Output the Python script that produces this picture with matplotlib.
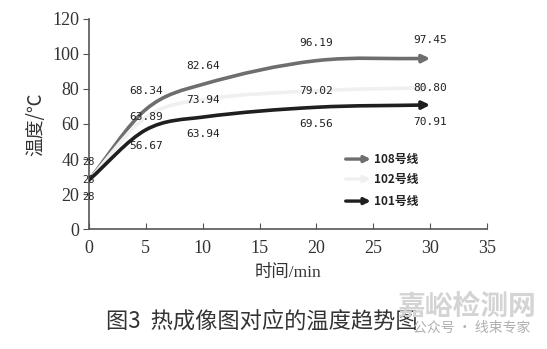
import matplotlib
matplotlib.use('Agg')
import matplotlib.pyplot as plt
from matplotlib.path import Path
from matplotlib.patches import FancyArrowPatch
import numpy as np

# data
times = [0, 5, 10, 20, 30]
line_108 = [28, 68.34, 82.64, 96.19, 97.45]
line_102 = [28, 63.89, 73.94, 79.02, 80.80]
line_101 = [28, 56.67, 63.94, 69.56, 70.91]
series_names = ['108号线', '102号线', '101号线']
x_ticks = [0, 5, 10, 15, 20, 25, 30, 35]
y_ticks = [0, 20, 40, 60, 80, 100, 120]

# styles
COLORS = ['#6e6e6e', '#f0f0f0', '#1f1f1f']
LABEL_DY = [13, 0, -12]   # label offset in points
TEXT = '#222222'
SPINE = '#555555'
CJK = ['Noto Sans CJK SC', 'DejaVu Sans']


def smooth_path(xs, ys):
    # cubic bezier through the data points (Excel-like smoothed line)
    xs = np.asarray(xs, float)
    ys = np.asarray(ys, float)
    n = len(xs)
    dydx = np.zeros(n)
    for i in range(n):
        if i == 0:
            dydx[i] = (ys[1] - ys[0]) / (xs[1] - xs[0])
        elif i == n - 1:
            dydx[i] = (ys[-1] - ys[-2]) / (xs[-1] - xs[-2])
        else:
            dydx[i] = (ys[i + 1] - ys[i - 1]) / (xs[i + 1] - xs[i - 1])
    verts = [(xs[0], ys[0])]
    codes = [Path.MOVETO]
    for i in range(n - 1):
        h = (xs[i + 1] - xs[i]) / 3
        verts += [(xs[i] + h, ys[i] + dydx[i] * h),
                  (xs[i + 1] - h, ys[i + 1] - dydx[i + 1] * h),
                  (xs[i + 1], ys[i + 1])]
        codes += [Path.CURVE4] * 3
    return Path(verts, codes)


fig = plt.figure(figsize=(5.47, 3.49), dpi=100)
fig.patch.set_facecolor('white')
ax = fig.add_axes([0.1627, 0.3438, 0.7276, 0.6018])

all_series = [line_108, line_102, line_101]
for vals, color, dy in zip(all_series, COLORS, LABEL_DY):
    arrow = FancyArrowPatch(path=smooth_path(times, vals), arrowstyle='-|>',
                            mutation_scale=11, color=color, lw=2.6,
                            transform=ax.transData)
    ax.add_patch(arrow)
    for x, v in zip(times, vals):
        txt = f'{v:.2f}' if x > 0 else f'{v:g}'
        ax.annotate(txt, (x, v), xytext=(0, dy),
                    textcoords='offset points', ha='center', va='center',
                    fontsize=8 if x > 0 else 7.5, family='DejaVu Sans Mono',
                    color=TEXT)

ax.set_xlim(0, 35)
ax.set_ylim(0, 120)
ax.set_xticks(x_ticks)
ax.set_yticks(y_ticks)
for lab in ax.get_xticklabels() + ax.get_yticklabels():
    lab.set_family('Liberation Serif')
    lab.set_fontsize(13)
    lab.set_color('#333333')
ax.tick_params(axis='x', direction='in', length=4, color=SPINE, pad=8)
ax.tick_params(axis='y', direction='out', length=4, color=SPINE, pad=3)
for s in ['top', 'right']:
    ax.spines[s].set_visible(False)
for s in ['left', 'bottom']:
    ax.spines[s].set_color(SPINE)
    ax.spines[s].set_linewidth(1.2)

ax.set_xlabel('时间/min', family=['Liberation Serif', 'Noto Sans CJK SC'],
              fontsize=12.5, color='#333333', labelpad=6)
ax.set_ylabel('温度/℃', family=CJK, fontsize=13.5, color='#333333', labelpad=4)

# legend with arrows
leg_y = [0.333, 0.238, 0.133]
for name, color, y in zip(series_names, COLORS, leg_y):
    ax.annotate('', xy=(0.708, y), xytext=(0.645, y), xycoords='axes fraction',
                arrowprops=dict(arrowstyle='-|>', color=color, lw=2.4,
                                mutation_scale=9, shrinkA=0, shrinkB=0))
    ax.text(0.715, y, name, transform=ax.transAxes, ha='left', va='center',
            family=CJK, fontsize=8.5, fontweight='bold', color=TEXT)

# caption
fig.text(0.478, 0.08, '图3  热成像图对应的温度趋势图', family=CJK, fontsize=16,
         ha='center', va='center', color='#333333')

# watermark
fig.text(0.852, 0.12, '嘉峪检测网', family=CJK, fontsize=20, ha='center',
         va='center', color='#d4d4d4', fontweight='bold')
fig.text(0.863, 0.06, '公众号 · 线束专家', family=CJK, fontsize=10, ha='center',
         va='center', color='#b0b0b0')

fig.savefig('out.png', dpi=100, facecolor='white')
